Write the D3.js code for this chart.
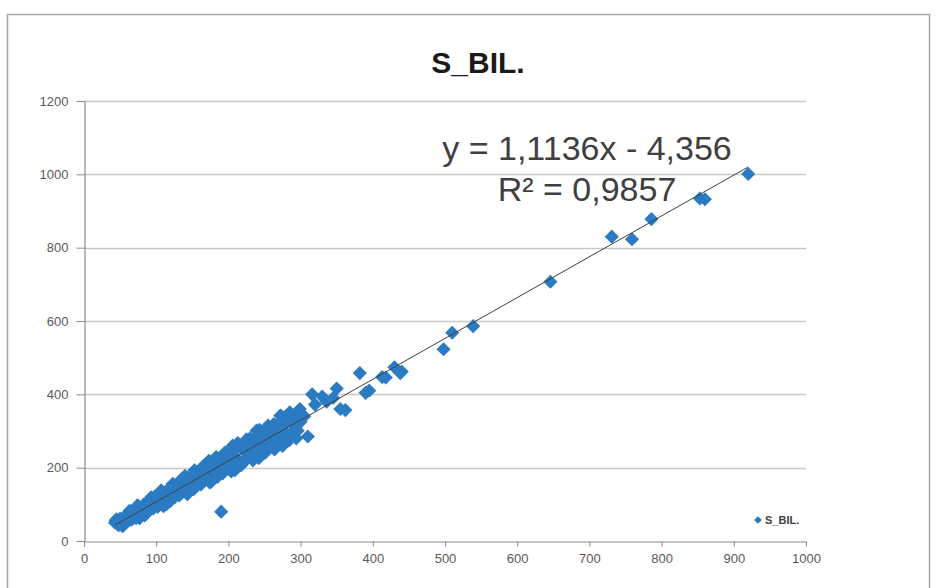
<!DOCTYPE html>
<html>
<head>
<meta charset="utf-8">
<script src="https://d3js.org/d3.v7.min.js"></script>
<style>
  body { margin: 0; background: #fff; }
  svg { display: block; font-family: "Liberation Sans", Arial, sans-serif; }
</style>
</head>
<body>
<svg id="chart" width="936" height="588"></svg>
<script>
// data
const title = 'S_BIL.'
const xTicks = [0, 100, 200, 300, 400, 500, 600, 700, 800, 900, 1000]
const yTicks = [0, 200, 400, 600, 800, 1000, 1200]

// dense band, first pass
const xsA = [45, 48, 51, 54, 57, 60, 63, 66, 69, 72, 75, 78, 81, 84, 87, 90, 93, 96, 99, 102, 105, 108, 111, 114, 117, 120,
  123, 126, 129, 132, 135, 138, 141, 144, 147, 150, 153, 156, 159, 162, 165, 168, 171, 174, 177, 180, 183, 186, 189, 192,
  195, 198, 201, 204, 207, 210, 213, 216, 219, 222, 225, 228, 231, 234, 237, 240, 243, 246, 249, 252, 255, 258, 261, 264,
  267, 270, 273, 276, 279, 282, 285, 288, 291, 294, 297, 300]
const ysA = [59, 43, 55, 41, 68, 60, 82, 58, 78, 62, 95, 74, 90, 70, 104, 94, 119, 89, 113, 93, 132, 106, 124, 100, 139, 126,
  156, 120, 147, 124, 168, 138, 159, 130, 174, 160, 193, 151, 182, 154, 204, 170, 192, 160, 210, 193, 229, 182, 216, 184,
  241, 202, 226, 190, 244, 226, 267, 213, 251, 216, 277, 234, 261, 220, 280, 259, 303, 245, 286, 246, 315, 266, 295, 250,
  315, 291, 341, 275, 320, 277, 351, 297, 330, 280, 350, 325]
// dense band, second pass
const xsB = [43, 44, 47, 50, 53, 56, 59, 62, 65, 68, 71, 74, 77, 80, 83, 86, 89, 92, 95, 98, 101, 104, 107, 110, 113, 116,
  119, 122, 125, 128, 131, 134, 137, 140, 143, 146, 149, 152, 155, 158, 161, 164, 167, 170, 173, 176, 179, 182, 185, 188,
  191, 194, 197, 200, 203, 206, 209, 212, 215, 218, 221, 224, 227, 230, 233, 236, 239, 242, 245, 248, 251, 254, 257, 260,
  263, 266, 269, 272, 275, 278, 281, 284, 287, 290, 296, 299]
const ysB = [50, 56, 45, 61, 41, 65, 61, 56, 81, 65, 77, 97, 62, 81, 100, 74, 104, 98, 90, 121, 101, 113, 138, 95, 116, 140,
  108, 142, 135, 125, 160, 137, 151, 178, 128, 152, 179, 141, 180, 172, 160, 200, 172, 188, 219, 161, 188, 218, 175, 219,
  208, 194, 240, 207, 226, 260, 193, 224, 258, 207, 257, 245, 228, 280, 243, 262, 301, 226, 260, 297, 241, 295, 282, 263,
  319, 279, 299, 342, 259, 296, 337, 274, 334, 319, 301, 360]
// sparse upper part
const xsC = [305, 310, 316, 320, 330, 336, 345, 350, 355, 362, 382, 390, 395, 413, 418, 430, 438, 440,
  190, 498, 510, 539, 646, 731, 759, 786, 853, 860, 920]
const ysC = [340, 285, 400, 372, 394, 380, 390, 416, 360, 357, 458, 404, 410, 447, 446, 474, 458, 462,
  80, 523, 568, 586, 707, 830, 823, 878, 934, 932, 1001]

const slope = 1.1136
const intercept = -4.356
const eqLines = ['y = 1,1136x - 4,356', 'R² = 0,9857']

const blue = '#2b7bc3'
const svg = d3.select('#chart')

// outer chart frame
svg.append('rect').attr('x', 7.5).attr('y', 14.5).attr('width', 922).attr('height', 600)
  .attr('fill', '#fff').attr('stroke', '#a6a6a6').attr('stroke-width', 1.5)

let x = d3.scaleLinear().domain([0, 1000]).range([84, 806])
let y = d3.scaleLinear().domain([0, 1200]).range([541, 101])

// grid
svg.append('g').selectAll('line').data(yTicks.slice(1)).enter().append('line')
  .attr('x1', x(0)).attr('x2', x(1000))
  .attr('y1', d => Math.round(y(d)) + 0.5).attr('y2', d => Math.round(y(d)) + 0.5)
  .attr('stroke', '#c8c8c8').attr('stroke-width', 1.5)

// axes
let xAxis = svg.append('g').attr('transform', 'translate(0,' + (Math.round(y(0)) + 0.5) + ')')
  .call(d3.axisBottom(x).tickValues(xTicks).tickFormat(d3.format('d')).tickSize(5).tickPadding(7).tickSizeOuter(0))
let yAxis = svg.append('g').attr('transform', 'translate(' + (x(0) + 0.5) + ',0)')
  .call(d3.axisLeft(y).tickValues(yTicks).tickFormat(d3.format('d')).tickSize(8).tickPadding(8).tickSizeOuter(0))
for (let a of [xAxis, yAxis]) {
  a.select('.domain').attr('stroke', '#8c8c8c').attr('stroke-width', 1.2)
  a.selectAll('.tick line').attr('stroke', '#8c8c8c')
  a.selectAll('.tick text').attr('fill', '#595959').style('font-size', '13px')
    .style('font-family', '"Liberation Sans", Arial, sans-serif')
}
// y axis line runs a little below the x axis like in Excel
yAxis.append('line').attr('x1', 0).attr('x2', 0).attr('y1', y(0)).attr('y2', y(0) + 6).attr('stroke', '#8c8c8c')

// points
let diamond = d3.symbol().type(d3.symbolSquare).size(100)
let pts = []
for (let [xs, ys] of [[xsA, ysA], [xsB, ysB], [xsC, ysC]]) {
  xs.forEach((v, i) => pts.push({ x: v, y: ys[i] }))
}
svg.append('g').selectAll('path').data(pts).enter().append('path')
  .attr('d', diamond)
  .attr('transform', d => 'translate(' + x(d.x) + ',' + y(d.y) + ') rotate(45)')
  .attr('fill', blue)

// trend line
let x0 = d3.min(pts, d => d.x), x1 = d3.max(pts, d => d.x)
svg.append('line')
  .attr('x1', x(x0)).attr('y1', y(slope * x0 + intercept))
  .attr('x2', x(x1)).attr('y2', y(slope * x1 + intercept))
  .attr('stroke', '#404040').attr('stroke-width', 1)

// equation
svg.append('text').attr('x', 587).attr('y', 160).attr('text-anchor', 'middle')
  .attr('fill', '#404040').style('font-size', '34px').text(eqLines[0])
svg.append('text').attr('x', 587).attr('y', 201).attr('text-anchor', 'middle')
  .attr('fill', '#404040').style('font-size', '34px').text(eqLines[1])

// title
svg.append('text').attr('x', 478).attr('y', 73).attr('text-anchor', 'middle')
  .attr('fill', '#1a1a1a').style('font-size', '30px').style('font-weight', 'bold').text(title)

// legend
svg.append('path').attr('d', d3.symbol().type(d3.symbolSquare).size(30))
  .attr('transform', 'translate(758,520) rotate(45)').attr('fill', blue)
svg.append('text').attr('x', 765).attr('y', 524).attr('fill', '#404040')
  .style('font-size', '11px').style('font-weight', 'bold').text(title)
</script>
</body>
</html>
